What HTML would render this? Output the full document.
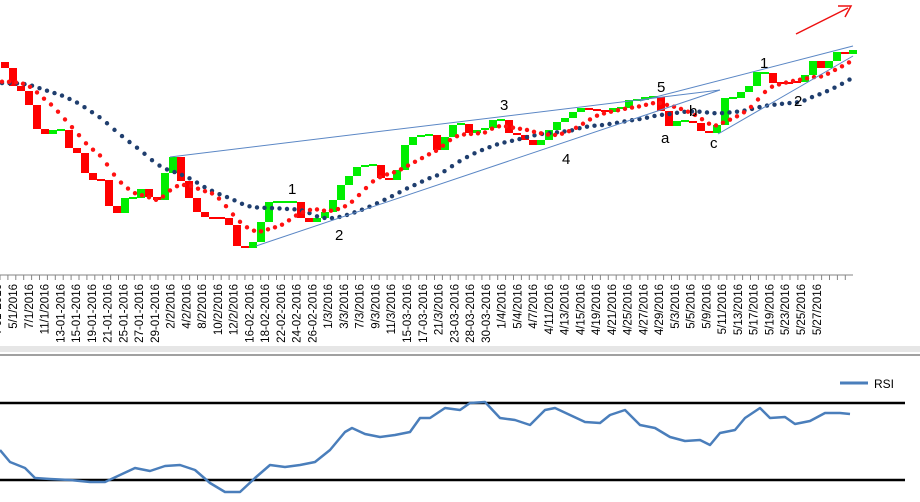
<!DOCTYPE html>
<html><head><meta charset="utf-8"><style>
html,body{margin:0;padding:0;background:#fff;width:920px;height:502px;overflow:hidden}
svg{display:block;font-family:"Liberation Sans",sans-serif}
</style></head><body>
<svg id="s" width="920" height="502" xmlns="http://www.w3.org/2000/svg">
<rect x="0" y="346" width="920" height="6" fill="#e6e6e6"/>
<line x1="0" y1="355" x2="920" y2="355" stroke="#a0a0a0" stroke-width="2"/>
<line x1="0" y1="275" x2="853" y2="275" stroke="#868686" stroke-width="1"/>
<g id="ticks"></g>
<g id="labels" font-size="11.5" fill="#000"></g>
<g id="candles"></g>
<g id="ma"></g>
<g stroke="#5b87c5" stroke-width="1" fill="none">
<line x1="170" y1="157" x2="720" y2="90"/>
<line x1="256" y1="246" x2="720" y2="90"/>
<line x1="640" y1="101" x2="853" y2="46"/>
<line x1="718" y1="134" x2="853" y2="56"/>
</g>
<g font-size="15" fill="#000">
<text x="288" y="194">1</text><text x="335" y="240">2</text><text x="500" y="110">3</text>
<text x="562" y="164">4</text><text x="657" y="92">5</text><text x="661" y="143">a</text>
<text x="689" y="116">b</text><text x="710" y="148">c</text><text x="760" y="68">1</text><text x="794" y="106">2</text>
</g>
<line x1="796" y1="34" x2="848" y2="8" stroke="#ee1111" stroke-width="1.5"/>
<polyline points="838,6 851,6 845,17" fill="none" stroke="#ee1111" stroke-width="1.5"/>
<line x1="0" y1="403" x2="905" y2="403" stroke="#000" stroke-width="2.5"/>
<line x1="0" y1="480" x2="905" y2="480" stroke="#000" stroke-width="2.5"/>
<polyline id="rsi" fill="none" stroke="#4a7ebb" stroke-width="2.5" stroke-linejoin="round"/>
<line x1="840" y1="383" x2="868" y2="383" stroke="#4a7ebb" stroke-width="3"/>
<text x="874" y="388" font-size="12">RSI</text>
</svg>
<script>
var NS="http://www.w3.org/2000/svg";
function el(t,a,p){var e=document.createElementNS(NS,t);for(var k in a)e.setAttribute(k,a[k]);document.getElementById(p).appendChild(e);return e;}
var C=[68,86,91,105,129,134,130,130,148,153,173,180,180,206,213,198,198,189,197,200,173,157,181,198,212,217,218,218,225,246,248,242,222,202,202,202,202,218,
222,218,212,200,185,176,167,165,165,178,180,170,145,137,135,135,150,137,125,124,133,130,128,120,120,133,135,140,145,140,130,122,118,112,108,110,110,112,108,108,100,100,97,97,111,126,121,121,123,131,133,125,98,98,92,86,72,73,83,83,83,82,75,61,68,61,52,54,50];
var open=62,prevUp=false;
for(var i=0;i<C.length;i++){var x=i*8+1,c=C[i];var up=c<open, flat=Math.abs(c-open)<1.5;
 var col=flat?(prevUp?"#00ee00":"#ff0000"):(up?"#00ee00":"#ff0000");
 var y=Math.min(c,open),h=Math.max(Math.abs(c-open),2);
 el("rect",{x:x,y:flat?c-1:y,width:8,height:h,fill:col},"candles");
 if(!flat)prevUp=up; open=c;}
function sma(n,seed){var r=[];for(var i=0;i<C.length;i++){var s=0;for(var j=i-n+1;j<=i;j++)s+=(j<0?seed:C[j]);r.push(s/n);}return r;}
var red=sma(7,84),blue=sma(18,84);
function dots(arr,col,step){for(var x=2;x<=850;x+=step){var f=(x-5)/8,i=Math.max(0,Math.min(arr.length-1,Math.floor(f))),i2=Math.min(arr.length-1,i+1),t=Math.max(0,Math.min(1,f-i));var y=arr[i]*(1-t)+arr[i2]*t;el("circle",{cx:x,cy:y,r:2.2,fill:col},"ma");}}
dots(blue,"#1f3e6e",7.5);dots(red,"#ff1111",7);
for(var x=0;x<=853;x+=7.9)el("line",{x1:x,y1:275,x2:x,y2:280,stroke:"#868686","stroke-width":1},"ticks");
var L=["5/1/2016","7/1/2016","11/1/2016","13-01-2016","15-01-2016","19-01-2016","21-01-2016","25-01-2016","27-01-2016","29-01-2016","2/2/2016","4/2/2016","8/2/2016","10/2/2016","12/2/2016","16-02-2016","18-02-2016","22-02-2016","24-02-2016","26-02-2016","1/3/2016","3/3/2016","7/3/2016","9/3/2016","11/3/2016","15-03-2016","17-03-2016","21/3/2016","23-03-2016","28-03-2016","30-03-2016","1/4/2016","5/4/2016","4/7/2016","4/11/2016","4/13/2016","4/15/2016","4/19/2016","4/21/2016","4/25/2016","4/27/2016","4/29/2016","5/3/2016","5/5/2016","5/9/2016","5/11/2016","5/13/2016","5/17/2016","5/19/2016","5/23/2016","5/25/2016","5/27/2016"];
L.unshift("4-01-2016");
for(var k=0;k<L.length;k++){var x=13+(k-1)*15.76+4;var t=el("text",{x:0,y:0,"text-anchor":"end",transform:"translate("+x+",284) rotate(-90)"},"labels");t.textContent=L[k];}
var R=[[0,450],[10,462],[25,468],[35,478],[50,479],[70,480],[90,482],[105,482],[120,475],[135,468],[150,471],[165,466],[180,465],[195,470],[210,483],[225,492],[240,492],[255,478],[270,465],[285,467],[300,465],[315,462],[330,450],[345,432],[352,428],[365,434],[380,437],[395,435],[410,432],[420,418],[430,418],[445,408],[460,410],[470,403],[485,402],[500,418],[515,420],[530,425],[545,410],[555,408],[570,415],[585,422],[600,423],[610,415],[625,410],[640,425],[655,428],[670,437],[685,441],[700,440],[710,445],[720,433],[735,430],[745,418],[760,408],[770,418],[785,417],[795,424],[810,421],[825,413],[840,413],[850,414]];
document.getElementById("rsi").setAttribute("points",R.map(function(p){return p.join(",")}).join(" "));
</script>
</body></html>
